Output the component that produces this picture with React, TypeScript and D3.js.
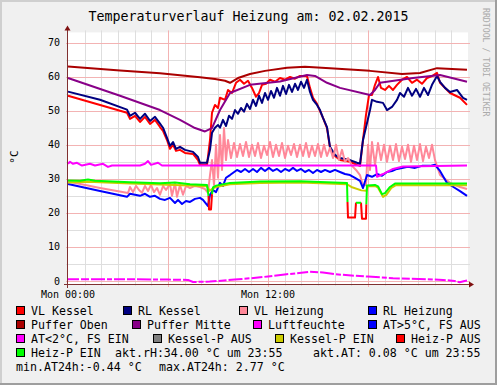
import React from "react";
import * as d3 from "d3";

type P = [number, number] | null;

const title = "Temperaturverlauf Heizung am: 02.02.2015";
const yTicks = [0, 10, 20, 30, 40, 50, 60, 70];
const yMinor = [5, 15, 25, 35, 45, 55, 65];
const xMajorHours = [6, 12, 18];
const xLabels: [number, string][] = [[0, "Mon 00:00"], [12, "Mon 12:00"]];

const vlKessel: P[] = [[0,54.4],[3.54,49.4],[3.72,47.6],[4.02,48.5],[4.32,46.7],[4.62,48.2],[4.92,46.1],[5.22,47.3],[5.52,45.2],[5.7,44.1],[5.94,41.4],[6.12,38.8],[6.3,40.0],[6.48,38.2],[6.72,38.5],[7.02,37.6],[7.5,37.3],[7.8,35.5],[7.92,34.1],[8.34,34.1],[8.52,41.4],[8.64,49.4],[8.82,51.7],[9.0,50.8],[9.12,53.8],[9.42,53.2],[9.6,56.1],[9.84,55.2],[10.08,58.2],[10.32,59.1],[10.56,57.9],[10.8,58.8],[11.04,56.7],[11.28,54.1],[11.46,55.2],[11.64,57.6],[11.88,57.9],[12.12,59.1],[12.42,58.5],[12.72,59.6],[13.02,59.1],[13.32,59.9],[13.62,59.4],[13.92,60.2],[14.34,60.2],[14.52,56.7],[14.7,53.8],[14.94,52.0],[15.12,49.9],[15.3,47.9],[15.54,44.9],[15.72,39.1],[16.02,36.7],[16.32,35.5],[16.92,35.0],[17.34,34.1],[17.52,33.8],[17.7,41.4],[17.88,48.8],[18.06,54.6],[18.24,54.6],[18.42,57.6],[18.6,59.9],[18.78,56.7],[19.02,56.1],[19.26,57.3],[19.5,56.1],[19.74,57.6],[20.04,59.1],[20.34,59.9],[20.64,58.2],[20.94,59.1],[21.24,57.9],[21.54,59.6],[21.84,60.2],[22.14,61.1],[22.32,58.2],[22.92,55.2],[23.52,53.8],[23.94,51.7]];

const rlKessel: P[] = [[0,55.6],[1.92,53.2],[3.54,50.3],[3.72,48.5],[4.02,49.4],[4.32,47.6],[4.62,49.1],[4.92,47.0],[5.22,48.2],[5.52,46.2],[5.7,45.0],[5.94,42.0],[6.12,39.7],[6.3,40.8],[6.48,38.8],[6.72,39.4],[7.02,38.5],[7.5,37.9],[7.8,36.4],[7.92,34.7],[8.34,34.7],[8.52,38.5],[8.64,43.5],[8.82,45.0],[9.0,45.8],[9.12,45.0],[9.3,47.3],[9.48,45.5],[9.66,48.5],[9.84,47.6],[10.02,50.2],[10.2,49.1],[10.38,50.8],[10.56,49.7],[10.74,52.0],[10.92,50.5],[11.1,53.2],[11.28,51.4],[11.46,54.4],[11.64,52.3],[11.82,55.2],[12.0,53.2],[12.18,55.8],[12.36,53.8],[12.54,56.7],[12.72,54.4],[12.9,57.3],[13.08,54.9],[13.26,57.6],[13.44,55.5],[13.62,57.9],[13.8,56.1],[13.98,58.5],[14.16,56.7],[14.34,59.1],[14.52,55.5],[14.7,53.2],[14.94,51.7],[15.12,50.2],[15.3,47.9],[15.54,45.2],[15.72,39.4],[16.02,37.0],[16.32,36.1],[16.92,35.5],[17.34,34.7],[17.52,34.4],[17.7,41.4],[17.94,46.4],[18.12,50.2],[18.24,53.2],[18.54,52.6],[18.9,52.3],[19.14,50.2],[19.44,51.1],[19.74,53.2],[19.92,55.2],[20.16,54.1],[20.4,56.7],[20.64,54.4],[20.88,56.4],[21.12,54.1],[21.36,56.7],[21.6,54.6],[21.84,57.6],[22.14,60.2],[22.32,58.5],[22.62,56.7],[22.92,55.5],[23.34,56.1],[23.7,53.8],[23.94,53.2]];

const vlHeizung: P[] = [[0,29.2],[1.92,27.3],[3.6,25.8],[3.72,27.6],[3.9,26.1],[4.08,27.9],[4.26,26.7],[4.44,25.9],[4.62,27.9],[4.8,26.4],[4.98,28.2],[5.16,26.1],[5.34,27.3],[5.52,25.3],[5.7,27.9],[5.88,26.7],[6.12,28.5],[6.24,25.0],[6.42,28.8],[6.54,24.7],[6.72,28.2],[6.9,25.3],[7.08,27.9],[7.32,27.3],[7.62,27.9],[7.92,27.6],[8.22,27.0],[8.4,25.9],[8.52,31.1],[8.64,35.5],[8.76,28.2],[8.88,40.0],[9.0,30.3],[9.12,42.9],[9.24,32.6],[9.36,44.9],[9.48,35.5],[9.6,41.4],[9.78,36.1],[9.96,40.5],[10.14,36.4],[10.32,40.2],[10.5,36.7],[10.68,40.8],[10.86,36.4],[11.04,40.0],[11.22,36.7],[11.4,40.5],[11.58,36.1],[11.76,39.7],[11.94,37.0],[12.12,40.8],[12.3,36.4],[12.48,40.0],[12.66,36.7],[12.84,40.5],[13.02,36.1],[13.2,39.7],[13.38,37.0],[13.56,40.2],[13.74,36.4],[13.92,40.0],[14.1,36.7],[14.28,40.5],[14.46,36.4],[14.64,39.7],[14.82,36.7],[15.0,40.2],[15.18,36.4],[15.36,40.0],[15.54,36.7],[15.72,39.1],[15.9,36.1],[16.08,40.0],[16.26,35.5],[16.44,38.5],[16.62,35.0],[16.8,36.1],[17.04,33.8],[17.28,32.6],[17.52,31.1],[17.7,27.9],[17.88,28.2],[18.0,40.0],[18.12,32.6],[18.24,40.8],[18.42,34.1],[18.6,40.5],[18.78,35.5],[18.96,40.0],[19.14,35.0],[19.32,39.7],[19.5,35.5],[19.68,40.2],[19.86,35.2],[20.04,39.4],[20.22,35.8],[20.4,40.0],[20.58,35.0],[20.76,39.7],[20.94,35.5],[21.12,40.2],[21.3,35.2],[21.48,39.4],[21.66,36.1],[21.84,40.0],[22.02,35.5],[22.32,31.1],[22.92,28.8],[23.52,27.6],[23.94,27.0]];

const rlHeizung: P[] = [[0,28.5],[1.92,26.4],[3.54,24.7],[3.72,25.6],[4.02,25.3],[4.32,25.0],[4.62,25.6],[4.92,24.7],[5.22,25.0],[5.52,24.1],[5.82,23.8],[6.12,24.4],[6.42,22.9],[6.6,23.8],[6.84,22.6],[7.08,23.5],[7.32,23.2],[7.62,24.1],[7.92,24.4],[8.1,23.8],[8.4,22.0],[8.52,25.3],[8.7,26.7],[8.88,26.1],[9.12,28.8],[9.3,27.9],[9.48,30.3],[9.72,31.1],[10.14,32.6],[10.38,32.0],[10.62,32.9],[10.86,32.0],[11.1,32.9],[11.34,32.0],[11.58,33.2],[11.82,32.3],[12.06,33.2],[12.3,32.3],[12.54,32.9],[12.78,32.0],[13.02,32.9],[13.26,32.3],[13.5,33.2],[13.74,32.3],[13.98,32.9],[14.22,32.0],[14.46,32.6],[14.7,31.7],[14.94,32.6],[15.18,32.0],[15.42,32.6],[15.72,32.0],[16.02,32.6],[16.32,32.0],[16.62,31.4],[16.92,31.1],[17.22,30.3],[17.52,29.4],[17.7,27.3],[17.94,31.1],[18.24,30.6],[18.54,31.4],[18.84,30.9],[19.14,32.0],[19.44,32.3],[19.74,32.9],[20.04,33.2],[20.4,33.5],[20.82,33.2],[21.24,33.8],[21.72,33.8],[22.02,34.1],[22.32,32.3],[22.74,28.8],[23.22,27.3],[23.52,26.4],[23.94,25.0]];

const pufferOben: P[] = [[0,63.0],[3.12,61.8],[5.52,61.0],[7.92,59.8],[8.82,59.3],[9.42,58.8],[9.72,58.2],[10.2,59.6],[10.92,60.8],[11.82,61.7],[13.14,62.6],[14.22,62.9],[15.72,62.5],[18.12,61.7],[20.04,60.8],[21.12,61.1],[22.14,62.5],[23.94,62.0]];

const pufferMitte: P[] = [[0,59.6],[3.12,54.4],[5.52,50.2],[6.72,47.3],[7.62,44.9],[8.22,43.9],[8.64,44.9],[9.12,50.2],[9.72,55.2],[10.92,57.6],[12.72,58.6],[14.34,60.5],[14.82,60.2],[15.54,58.2],[16.32,56.7],[18.12,54.6],[18.42,56.1],[18.72,58.2],[20.7,59.6],[22.32,60.5],[23.94,58.5]];

const luftfeuchte: P[] = [[0,34.4],[0.12,35.0],[0.3,34.4],[0.54,34.7],[0.84,33.9],[1.32,34.4],[1.62,33.9],[2.1,34.4],[2.4,33.5],[2.64,33.9],[4.32,33.9],[4.62,34.4],[4.8,35.2],[4.98,34.1],[5.4,34.7],[5.64,33.9],[18.48,33.9],[18.54,30.6],[18.9,31.4],[19.5,32.9],[20.1,33.6],[23.94,33.9]];

const aussenTemp: P[] = [[0,0.5],[3,0.5],[6,0.4],[7.2,0.3],[7.5,-0.3],[8.5,-0.2],[9,0.0],[10,0.4],[11,0.8],[12,1.3],[13,1.9],[14,2.4],[14.5,2.7],[15.3,2.5],[16,2.0],[17,1.6],[18,1.3],[19.5,0.8],[21.5,0.5],[22.5,0.3],[23.2,0.0],[23.5,-0.4],[23.8,0.0],[23.94,0.1]];

const kesselPEin: P[] = [[0,28.9],[1.2,29.1],[3.72,28.6],[5.52,28.3],[7.32,28.0],[8.34,27.8],[8.5,26.5],[8.7,27.2],[8.88,27.6],[9.72,28.4],[11.52,28.8],[13.92,28.9],[16.74,28.4],[17.0,27.6],[17.6,26.6],[17.9,26.5],[18.0,27.8],[18.42,27.9],[18.6,27.4],[18.9,24.7],[19.1,25.3],[19.4,27.3],[19.7,28.2],[23.94,28.1]];

const heizPEin: P[] = [[0,29.5],[0.72,29.4],[1.2,29.8],[1.62,29.4],[3.72,29.0],[5.52,28.7],[6.42,28.9],[7.32,28.4],[8.34,28.2],[8.43,25.0],null,[8.64,25.5],[8.7,27.5],[8.88,28.0],[9.72,28.8],[11.52,29.2],[13.92,29.3],[16.74,28.8],[16.77,23.2],null,[17.28,23.0],[17.58,23.0],null,[17.9,22.5],[17.94,28.0],[18.42,28.2],[18.6,27.8],[18.84,25.5],[19.02,25.8],[19.32,27.6],[19.62,28.6],[23.94,28.6]];

const heizPAus: P[] = [[8.43,25.0],[8.46,21.0],[8.58,21.0],[8.64,25.5],null,[16.77,23.2],[16.8,18.6],[17.22,18.6],[17.28,23.0],null,[17.58,23.0],[17.64,18.3],[17.88,18.3],[17.9,22.5]];

const legendLabels = ["VL Kessel","RL Kessel","VL Heizung","RL Heizung","Puffer Oben","Puffer Mitte","Luftfeuchte","AT>5°C, FS AUS","AT<2°C, FS EIN","Kessel-P AUS","Kessel-P EIN","Heiz-P AUS","Heiz-P EIN"];
const legendColors = ["#FF0000","#000080","#FF8899","#0000FF","#AA0000","#880088","#FF00FF","#0000FF","#FF00FF","#808080","#CCCC00","#FF0000","#00FF00"];
const infoTexts = ["akt.rH:34.00 °C um 23:55","akt.AT: 0.08 °C um 23:55","min.AT24h:-0.44 °C","max.AT24h: 2.77 °C"];

const W = 497, H = 385;
const X0 = 68, X1 = 468, Y0 = 284, Y1 = 32.4;
const mono = "'DejaVu Sans Mono', monospace";

export default function App() {
  const x = d3.scaleLinear().domain([0, 24]).range([X0, X1]);
  const y = d3.scaleLinear().domain([-0.9, 73]).range([Y0, Y1]);
  const line = d3.line<P>().defined(d => d !== null).x(d => x((d as [number, number])[0])).y(d => y((d as [number, number])[1]));
  const r = (v: number) => Math.round(v) + 0.5;
  const hours = d3.range(1, 24);

  const series: { d: P[]; c: string; dash?: string }[] = [
    { d: vlKessel, c: legendColors[0] },
    { d: rlKessel, c: legendColors[1] },
    { d: vlHeizung, c: legendColors[2] },
    { d: rlHeizung, c: legendColors[3] },
    { d: pufferOben, c: legendColors[4] },
    { d: pufferMitte, c: legendColors[5] },
    { d: luftfeuchte, c: legendColors[6] },
    { d: aussenTemp, c: legendColors[8], dash: "11,2,8,2,14,2,5,2" },
    { d: kesselPEin, c: legendColors[10] },
    { d: heizPAus, c: legendColors[11] },
    { d: heizPEin, c: legendColors[12] },
  ];

  const legendPos: [number, number][] = [
    [16, 0], [123, 0], [239, 0], [368, 0],
    [16, 1], [132, 1], [253, 1], [368, 1],
    [16, 2], [153, 2], [275, 2], [396, 2],
    [16, 3],
  ];
  const infoPos: [number, number][] = [[115, 3], [313, 3], [16, 4], [159, 4]];
  const rowBase = (row: number) => 315 + row * 14;

  return (
    <svg width={W} height={H} style={{ display: "block", position: "absolute", left: 0, top: 0 }}>
      <rect x={0} y={0} width={W} height={H} fill="#F0F0F0" />
      <rect x={0} y={0} width={W} height={2} fill="#CFCFCF" />
      <rect x={0} y={0} width={2} height={H} fill="#CFCFCF" />
      <rect x={W - 2} y={0} width={2} height={H} fill="#9E9E9E" />
      <rect x={0} y={H - 2} width={W} height={2} fill="#9E9E9E" />
      <rect x={X0} y={Y1} width={X1 - X0} height={Y0 - Y1} fill="#FFFFFF" />

      {/* minor grid */}
      {yMinor.map(v => (
        <line key={"ym" + v} x1={X0 - 2} x2={X1 + 2} y1={r(y(v))} y2={r(y(v))} stroke="#DEDEDE" />
      ))}
      {hours.filter(h => !xMajorHours.includes(h)).map(h => (
        <line key={"xm" + h} x1={r(x(h))} x2={r(x(h))} y1={Y1 - 2} y2={Y0 + 2} stroke="#DEDEDE" />
      ))}
      {/* major grid */}
      {yTicks.map(v => (
        <line key={"yM" + v} x1={X0 - 2} x2={X1 + 2} y1={r(y(v))} y2={r(y(v))} stroke="#F3B3B3" />
      ))}
      {xMajorHours.map(h => (
        <line key={"xM" + h} x1={r(x(h))} x2={r(x(h))} y1={Y1 - 2} y2={Y0 + 3} stroke="#F3B3B3" />
      ))}

      {series.map((s, i) => (
        <path key={"s" + i} d={line(s.d) || ""} fill="none" stroke={s.c} strokeWidth={2}
          strokeDasharray={s.dash} strokeLinejoin="round" />
      ))}

      {/* axes */}
      <line x1={X0 - 4} x2={X1 + 2} y1={Y0 + 0.5} y2={Y0 + 0.5} stroke="#803030" />
      <line x1={X0 - 0.5} x2={X0 - 0.5} y1={Y0 + 4} y2={Y1 - 3} stroke="#803030" />
      <path d={`M${X1 + 1},${Y0 - 2.5} L${X1 + 6},${Y0 + 0.5} L${X1 + 1},${Y0 + 3.5} Z`} fill="#7F1010" />
      <path d={`M${X0 - 3.5},${Y1 - 2} L${X0 - 0.5},${Y1 - 7} L${X0 + 2.5},${Y1 - 2} Z`} fill="#7F1010" />

      {/* y labels */}
      {yTicks.map(v => (
        <text key={"yl" + v} x={60} y={y(v) + 3.6} textAnchor="end" fontFamily={mono} fontSize={10} fill="#000">{v}</text>
      ))}
      {xLabels.map(([h, s]) => (
        <text key={"xl" + h} x={x(h)} y={298} textAnchor="middle" fontFamily={mono} fontSize={10} fill="#000" style={{ whiteSpace: "pre" }}>{s}</text>
      ))}
      <text transform="translate(18,157) rotate(-90)" textAnchor="middle" fontFamily={mono} fontSize={11} fill="#000">°C</text>
      <text x={248.5} y={21} textAnchor="middle" fontFamily={mono} fontSize={13.3} fill="#000" style={{ whiteSpace: "pre" }}>{title}</text>
      <text transform="translate(483,8) rotate(90)" fontFamily={mono} fontSize={8.2} fill="#AAAAAA" style={{ whiteSpace: "pre" }}>RRDTOOL / TOBI OETIKER</text>

      {/* legend */}
      {legendLabels.map((lab, i) => {
        const [bx, row] = legendPos[i];
        const b = rowBase(row);
        return (
          <g key={"lg" + i}>
            <rect x={bx + 0.5} y={b - 8.5} width={8} height={8} fill={legendColors[i]} stroke="#000" strokeWidth={1} />
            <text x={bx + 15} y={b} fontFamily={mono} fontSize={11.6} fill="#000" style={{ whiteSpace: "pre" }}>{lab}</text>
          </g>
        );
      })}
      {infoTexts.map((t, i) => (
        <text key={"in" + i} x={infoPos[i][0]} y={rowBase(infoPos[i][1])} fontFamily={mono} fontSize={11.6} fill="#000" style={{ whiteSpace: "pre" }}>{t}</text>
      ))}
    </svg>
  );
}
